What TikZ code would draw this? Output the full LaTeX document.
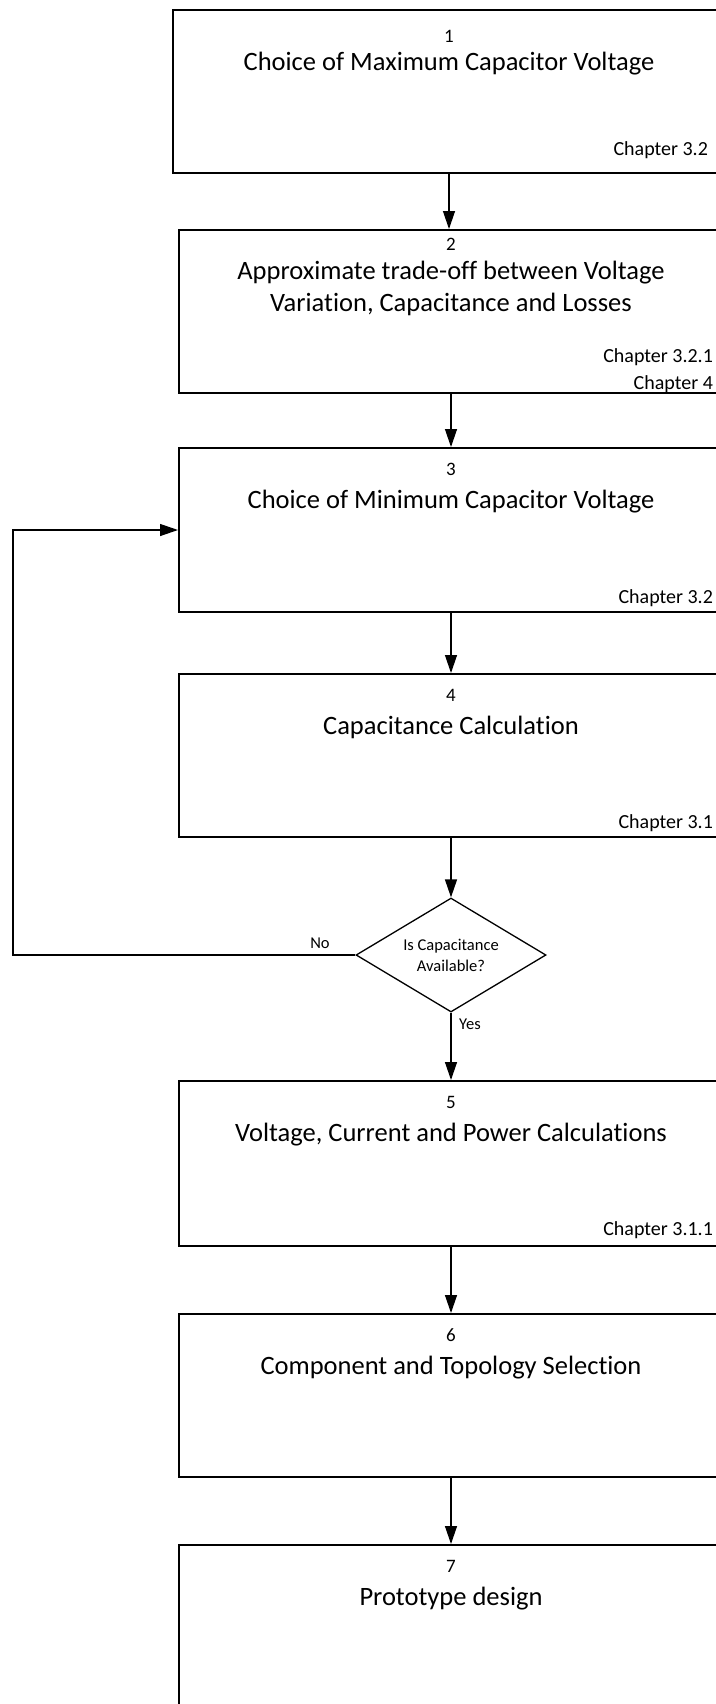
\documentclass[tikz,border=0pt]{standalone}
\usepackage{fontspec}
\setmainfont{Carlito}[Ligatures=NoCommon]
\usetikzlibrary{arrows.meta,shapes.geometric,positioning}
\definecolor{inkclr}{HTML}{000000}

\begin{document}
\begin{tikzpicture}[x=0.5pt, y=-0.5pt,
  stagebox/.style={draw=inkclr, line width=1pt, minimum width=272pt,
                   minimum height=81.5pt, inner sep=0pt, anchor=north west},
  stagenum/.style={font=\fontsize{9.5}{11}\selectfont, anchor=base},
  stagetitle/.style={font=\fontsize{13.25}{16}\selectfont, anchor=base},
  chapnote/.style={font=\fontsize{10}{11}\selectfont, anchor=base east},
  smalltxt/.style={font=\fontsize{8.25}{10.5}\selectfont},
  flow/.style={-{Triangle[length=9pt, width=6pt]}, line width=0.65pt, inkclr}]

\useasboundingbox (0,0) rectangle (716,1704);
\clip (0,0) rectangle (716,1704);

% --- the seven stages (their right sides run off the page) ----------------
\node[stagebox, minimum width=276pt] (b1) at (172,9) {};
\node[stagebox] (b2) at (178,229) {};
\node[stagebox, minimum height=82pt] (b3) at (178,447) {};
\node[stagebox] (b4) at (178,673) {};
\node[stagebox, minimum height=82.5pt] (b5) at (178,1080) {};
\node[stagebox] (b6) at (178,1313) {};
\node[stagebox] (b7) at (178,1544) {};

% --- the decision -----------------------------------------------------------
\node[draw=inkclr, diamond, line width=0.65pt, minimum width=95pt,
      minimum height=57pt, aspect=1.67, inner sep=0pt, smalltxt, align=center]
  (dec) at (451,955) {Is Capacitance\\Available?};

% --- numbers and titles -----------------------------------------------------
\node[stagenum] (n1) at ([yshift=-16.5pt]b1.north) {1};
\node[stagetitle] (t1) at ([yshift=-30.5pt]b1.north) {Choice of Maximum Capacitor Voltage};
\node[stagenum] (n2) at ([yshift=-10.5pt]b2.north) {2};
\node[stagetitle] (t2a) at ([yshift=-25pt]b2.north) {Approximate trade-off between Voltage};
\node[stagetitle] (t2b) at ([yshift=-41pt]b2.north) {Variation, Capacitance and Losses};
\node[stagenum] (n3) at ([yshift=-14pt]b3.north) {3};
\node[stagetitle] (t3) at ([yshift=-30.5pt]b3.north) {Choice of Minimum Capacitor Voltage};
\node[stagenum] (n4) at ([yshift=-14pt]b4.north) {4};
\node[stagetitle] (t4) at ([yshift=-30.5pt]b4.north) {Capacitance Calculation};
\node[stagenum] (n5) at ([yshift=-14pt]b5.north) {5};
\node[stagetitle] (t5) at ([yshift=-30.5pt]b5.north) {Voltage, Current and Power Calculations};
\node[stagenum] (n6) at ([yshift=-14pt]b6.north) {6};
\node[stagetitle] (t6) at ([yshift=-30.5pt]b6.north) {Component and Topology Selection};
\node[stagenum] (n7) at ([yshift=-14pt]b7.north) {7};
\node[stagetitle] (t7) at ([yshift=-30.5pt]b7.north) {Prototype design};

% --- chapter references -----------------------------------------------------
\node[chapnote] (c1) at ([xshift=-5.5pt, yshift=9.5pt]b1.south east) {Chapter 3.2};
\node[chapnote] (c2a) at ([xshift=-2pt, yshift=16pt]b2.south east) {Chapter 3.2.1};
\node[chapnote] (c2b) at ([xshift=-2pt, yshift=2.5pt]b2.south east) {Chapter 4};
\node[chapnote] (c3) at ([xshift=-2pt, yshift=5pt]b3.south east) {Chapter 3.2};
\node[chapnote] (c4) at ([xshift=-2pt, yshift=5pt]b4.south east) {Chapter 3.1};
\node[chapnote] (c5) at ([xshift=-2pt, yshift=6pt]b5.south east) {Chapter 3.1.1};

% --- the flow ---------------------------------------------------------------
\draw[flow] (b1.south) -- (b1.south |- b2.north);
\draw[flow] (b2.south) -- (b3.north);
\draw[flow] (b3.south) -- (b4.north);
\draw[flow] (b4.south) -- (b4.south |- dec.north);
\draw[flow] (dec.south -| b5.north) -- (b5.north);
\draw[flow] (b5.south) -- (b6.north);
\draw[flow] (b6.south) -- (b7.north);

% back round to stage 3 when the capacitance is not there
\coordinate (loopx) at (13,0);
\draw[flow] (dec.west) -- (dec.west -| loopx) |- (b3.west);

\node[smalltxt] (nolbl) at (320,943) {No};
\node[smalltxt] (yeslbl) at (470,1024) {Yes};

\end{tikzpicture}
\end{document}
